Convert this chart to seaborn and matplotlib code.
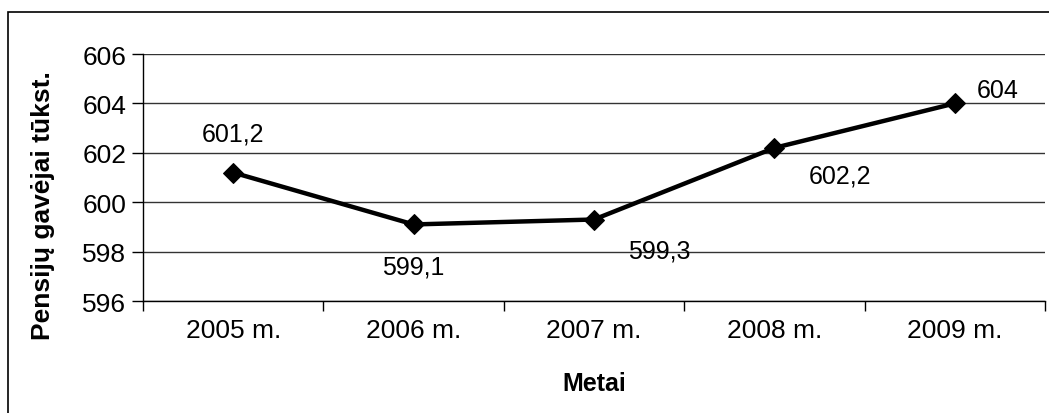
import numpy as np
import pandas as pd
import matplotlib
matplotlib.use("Agg")
import matplotlib.pyplot as plt
from matplotlib.patches import Rectangle
import seaborn as sns

years = ["2005 m.", "2006 m.", "2007 m.", "2008 m.", "2009 m."]
recipients = [601.2, 599.1, 599.3, 602.2, 604.0]
y_ticks = [596, 598, 600, 602, 604, 606]
# label offsets (points) relative to each data point, as in the original
label_offsets = [(0, 28), (0, -30), (47, -22), (47, -20), (31, 10)]

sns.set_style("white")
plt.rcParams["font.family"] = ["Liberation Sans", "DejaVu Sans"]
plt.rcParams["text.color"] = "black"
plt.rcParams["axes.labelcolor"] = "black"
plt.rcParams["xtick.color"] = "black"
plt.rcParams["ytick.color"] = "black"

df = pd.DataFrame({"metai": years, "gavejai": recipients})
df["pos"] = np.arange(len(df))

fig = plt.figure(figsize=(10.49, 4.14), dpi=100)
ax = fig.add_axes([0.1363, 0.2705, 0.8599, 0.5966])

sns.lineplot(data=df, x="pos", y="gavejai", ax=ax, color="black", linewidth=3.2,
             marker="D", markersize=10, markeredgecolor="black", sort=False)

for (i, row), (dx, dy) in zip(df.iterrows(), label_offsets):
    txt = f"{row.gavejai:g}".replace(".", ",")
    ax.annotate(txt, (row.pos, row.gavejai), xytext=(dx, dy), textcoords="offset points",
                ha="center", va="center", fontsize=18)

ax.set_ylim(596, 606)
ax.set_yticks(y_ticks)
ax.set_yticklabels([str(t) for t in y_ticks], fontsize=19)
ax.set_xlim(-0.5, len(years) - 0.5)
ax.set_xticks(np.arange(-0.5, len(years)))
ax.set_xticklabels([])
ax.set_xticks(np.arange(len(years)), minor=True)
ax.set_xticklabels(years, minor=True, fontsize=19)
ax.tick_params(axis="x", which="major", direction="out", length=7, width=1, color="black", bottom=True)
ax.tick_params(axis="x", which="minor", length=0, pad=12)
ax.tick_params(axis="y", direction="out", length=8, width=1, color="black", left=True, pad=4)

ax.grid(axis="y", color="#333333", linewidth=1)
ax.grid(axis="x", visible=False)
for side in ["top", "right"]:
    ax.spines[side].set_visible(False)
for side in ["left", "bottom"]:
    ax.spines[side].set_color("black")
    ax.spines[side].set_linewidth(1)

ax.set_xlabel("Metai", fontsize=18, fontweight="bold")
ax.set_ylabel("Pensijų gavėjai tūkst.", fontsize=19, fontweight="bold")
ax.xaxis.set_label_coords(0.5, -0.285)
ax.yaxis.set_label_coords(-0.097, 0.39)

# outer chart frame, cut off at the right and bottom edges of the image
fig.patches.append(Rectangle((8 / 1049, -20 / 414), 1080 / 1049, 421 / 414, transform=fig.transFigure,
                             fill=False, edgecolor="black", linewidth=1.2))

fig.savefig("out.png", dpi=100)
